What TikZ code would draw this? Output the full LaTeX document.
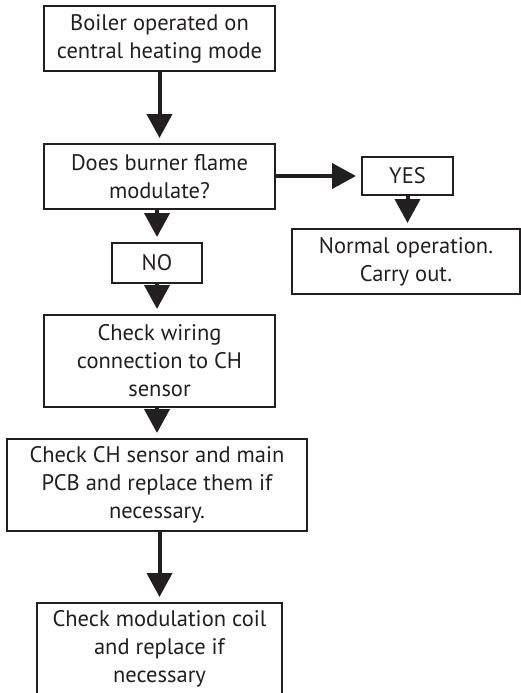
\documentclass[tikz,border=0pt]{standalone}
\usepackage{fontspec}
\setmainfont{PT Sans}
\usetikzlibrary{arrows.meta,calc}
\definecolor{ink}{HTML}{231F20}
\tikzset{
  box/.style={draw=ink, line width=2pt, align=center, inner sep=0pt,
    font=\fontsize{22.5}{28}\selectfont, text=ink},
  flow/.style={draw=ink, line width=4pt, -{Triangle[length=24pt,width=25pt]}, shorten >=5pt},
}
\begin{document}
\begin{tikzpicture}[x=1pt,y=-1pt]
\useasboundingbox (0,0) rectangle (521,693);
\clip (0,0) rectangle (521,693);
\node[box, minimum width=231pt, minimum height=65pt] (b1) at (159.5,38.5) {Boiler operated on\\central heating mode};
\node[box, minimum width=231pt, minimum height=65pt] (b2) at (159.5,176.5) {Does burner flame\\modulate?};
\node[box, minimum width=91pt, minimum height=38pt] (yes) at (407.5,176) {YES};
\node[box, minimum width=228pt, minimum height=65pt] (ok) at (406,261.5) {Normal operation.\\Carry out.};
\node[box, minimum width=90pt, minimum height=40pt] (no) at (157,263) {NO};
\node[box, minimum width=231pt, minimum height=92pt] (b3) at (159.5,361) {Check wiring\\connection to CH\\sensor};
\node[box, minimum width=300pt, minimum height=92pt] (b4) at (157,485) {Check CH sensor and main\\PCB and replace them if\\necessary.};
\node[box, minimum width=245pt, minimum height=92pt] (b5) at (159.5,649) {Check modulation coil\\and replace if\\necessary};
\draw[flow] (b1.south) -- (b1.south |- b2.north);
\draw[flow] (b2.south -| no) -- (no.north);
\draw[flow] (b2.east |- yes.west) -- (yes.west);
\draw[flow] (yes.south) -- (yes.south |- ok.north);
\draw[flow] (no.south) -- (no.south |- b3.north);
\draw[flow] (b3.south -| no) -- (no |- b4.north);
\draw[flow] (b4.south -| b5) -- (b5.north);
\end{tikzpicture}
\end{document}
